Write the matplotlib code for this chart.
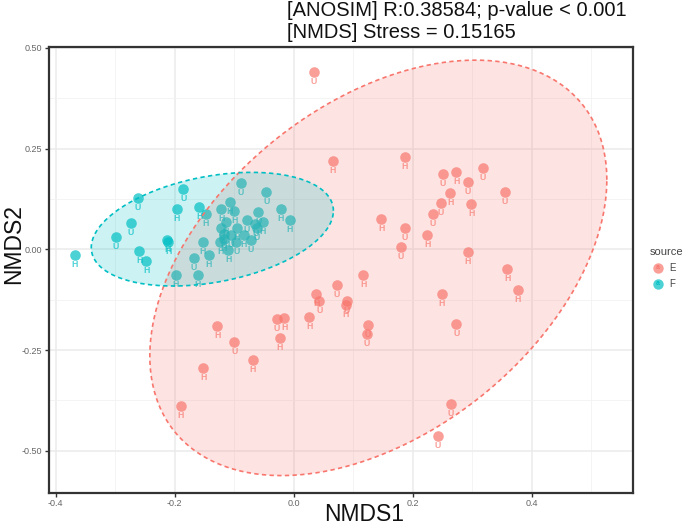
import numpy as np
import matplotlib
matplotlib.use('Agg')
import matplotlib.pyplot as plt
from matplotlib.lines import Line2D

plt.rcParams['font.family'] = ['Liberation Sans', 'DejaVu Sans']

# ---------------- data ----------------
e_x = [0.034, 0.065, 0.186, 0.250, 0.273, 0.318, 0.292, 0.263, 0.355, 0.247,
       0.298, 0.234, 0.147, 0.187, 0.224, 0.180, 0.292, 0.359, 0.376, 0.249,
       0.273, 0.117, 0.072, 0.038, 0.043, 0.089, 0.087, -0.029, -0.016, 0.026,
       0.124, 0.123, -0.129, -0.100, -0.024, -0.069, -0.152, -0.190, 0.264, 0.242]
e_y = [0.441, 0.219, 0.230, 0.187, 0.191, 0.201, 0.166, 0.140, 0.142, 0.114,
       0.112, 0.088, 0.075, 0.052, 0.035, 0.006, -0.006, -0.050, -0.101, -0.111,
       -0.185, -0.064, -0.089, -0.112, -0.128, -0.128, -0.138, -0.173, -0.170, -0.169,
       -0.188, -0.211, -0.190, -0.231, -0.221, -0.276, -0.294, -0.389, -0.384, -0.463]
e_lab = ['U', 'H', 'H', 'U', 'H', 'U', 'U', 'H', 'U', 'U',
         'H', 'U', 'H', 'U', 'H', 'U', 'H', 'H', 'H', 'H',
         'U', 'H', 'U', 'H', 'U', 'U', 'H', 'U', 'H', 'H',
         'U', 'U', 'H', 'U', 'H', 'H', 'H', 'H', 'U', 'U']

f_x = [-0.368, -0.299, -0.274, -0.262, -0.260, -0.248, -0.213, -0.211, -0.197, -0.186,
       -0.159, -0.148, -0.153, -0.168, -0.143, -0.198, -0.161, -0.089, -0.046, -0.022,
       -0.007, -0.108, -0.122, -0.100, -0.060, -0.079, -0.114, -0.122, -0.096, -0.065,
       -0.052, -0.062, -0.118, -0.106, -0.084, -0.072, -0.118, -0.110, -0.097, -0.124]
f_y = [-0.014, 0.031, 0.066, 0.128, -0.003, -0.029, 0.024, 0.018, 0.099, 0.150,
       0.106, 0.088, 0.019, -0.021, -0.014, -0.064, -0.064, 0.165, 0.143, 0.100,
       0.072, 0.118, 0.099, 0.094, 0.093, 0.072, 0.068, 0.054, 0.053, 0.064,
       0.069, 0.052, 0.039, 0.036, 0.036, 0.023, 0.026, -0.002, 0.019, 0.018]
f_lab = ['H', 'U', 'U', 'U', 'H', 'H', 'H', 'H', 'H', 'U',
         'H', 'H', 'H', 'U', 'H', 'H', 'H', 'U', 'U', 'H',
         'H', 'H', 'H', 'H', 'U', 'U', 'H', 'U', 'H', 'U',
         'H', 'U', 'H', 'U', 'H', 'U', 'H', 'H', 'U', 'H']

# 95% ellipses (centre and shape matrix)
ell_E_center = [0.142, -0.046]
ell_E_cov = [[0.1475, 0.084], [0.084, 0.266]]
ell_F_center = [-0.137, 0.050]
ell_F_cov = [[0.0414, 0.0093], [0.0093, 0.0199]]

groups = ['E', 'F']
colors = {'E': '#F8766D', 'F': '#00BFC4'}

x_ticks = [-0.4, -0.2, 0.0, 0.2, 0.4]
x_tick_labels = ['-0.4', '-0.2', '0.0', '0.2', '0.4']
y_ticks = [-0.50, -0.25, 0.00, 0.25, 0.50]
y_tick_labels = ['-0.50', '-0.25', '0.00', '0.25', '0.50']

title_lines = ['[ANOSIM] R:0.38584; p-value < 0.001', '[NMDS] Stress = 0.15165']

# ---------------- figure ----------------
W, H = 685, 527
fig = plt.figure(figsize=(W / 100, H / 100), dpi=100)
ax = fig.add_axes([48.7 / W, 1 - 493 / H, (633 - 48.7) / W, (493 - 46.5) / H])

ax.set_xlim(-0.412, 0.570)
ax.set_ylim(-0.605, 0.5036)

ax.set_xticks(x_ticks)
ax.set_xticklabels(x_tick_labels)
ax.set_yticks(y_ticks)
ax.set_yticklabels(y_tick_labels)
ax.set_xticks([-0.3, -0.1, 0.1, 0.3, 0.5], minor=True)
ax.set_yticks([-0.375, -0.125, 0.125, 0.375], minor=True)
ax.grid(which='major', color='#EBEBEB', linewidth=1.1, zorder=0)
ax.grid(which='minor', color='#F2F2F2', linewidth=0.6, zorder=0)
ax.set_axisbelow(True)
ax.tick_params(which='major', length=3, width=1, color='#333333',
               labelcolor='#666666', labelsize=6.5, pad=1.5)
ax.tick_params(which='minor', length=0)
for s in ax.spines.values():
    s.set_linewidth(1.6)
    s.set_color('#333333')

data = {'E': (e_x, e_y, e_lab), 'F': (f_x, f_y, f_lab)}
for g in groups:
    xs, ys, labs = data[g]
    ax.scatter(xs, ys, s=58, color=colors[g], alpha=0.7, linewidths=0, zorder=2)
    for xv, yv, lb in zip(xs, ys, labs):
        ax.annotate(lb, (xv, yv), xytext=(0, -9.5), textcoords='offset pixels',
                    ha='center', va='center', fontsize=6.3, fontweight='bold',
                    color=colors[g], alpha=0.7, zorder=2)

t = np.linspace(0, 2 * np.pi, 300)
for g, c, cv in [('E', ell_E_center, ell_E_cov), ('F', ell_F_center, ell_F_cov)]:
    L = np.linalg.cholesky(np.array(cv))
    pts = np.array(c)[:, None] + L @ np.vstack([np.cos(t), np.sin(t)])
    ax.fill(pts[0], pts[1], color=colors[g], alpha=0.2, lw=0, zorder=3)
    ax.plot(pts[0], pts[1], color=colors[g], lw=1.2, ls=(0, (2.6, 2.0)), zorder=4)

# titles / labels
fig.text(287 / W, 1 - 10 / H, title_lines[0], ha='left', va='center', fontsize=14.5, color='#111111')
fig.text(287 / W, 1 - 32 / H, title_lines[1], ha='left', va='center', fontsize=14.5, color='#111111')
fig.text(364 / W, 1 - 521 / H, 'NMDS1', ha='center', va='baseline', fontsize=16.5, color='#111111')
fig.text(14 / W, 1 - 244 / H, 'NMDS2', ha='center', va='center', rotation=90, fontsize=16.5, color='#111111')

# legend
fig.text(650 / W, 1 - 252 / H, 'source', ha='left', va='center', fontsize=8, color='#444444')
for i, g in enumerate(groups):
    yy = 1 - (267.7 + 16 * i) / H
    fig.add_artist(Line2D([657.7 / W], [yy], marker='o', markersize=7.5, color=colors[g],
                          alpha=0.7, markeredgewidth=0, transform=fig.transFigure))
    fig.text(657.7 / W, yy, 'a', ha='center', va='center', fontsize=5, fontweight='bold',
             color=colors[g])
    fig.text(669 / W, yy, g, ha='left', va='center', fontsize=7, color='#444444')

fig.savefig('out.png', dpi=100)
